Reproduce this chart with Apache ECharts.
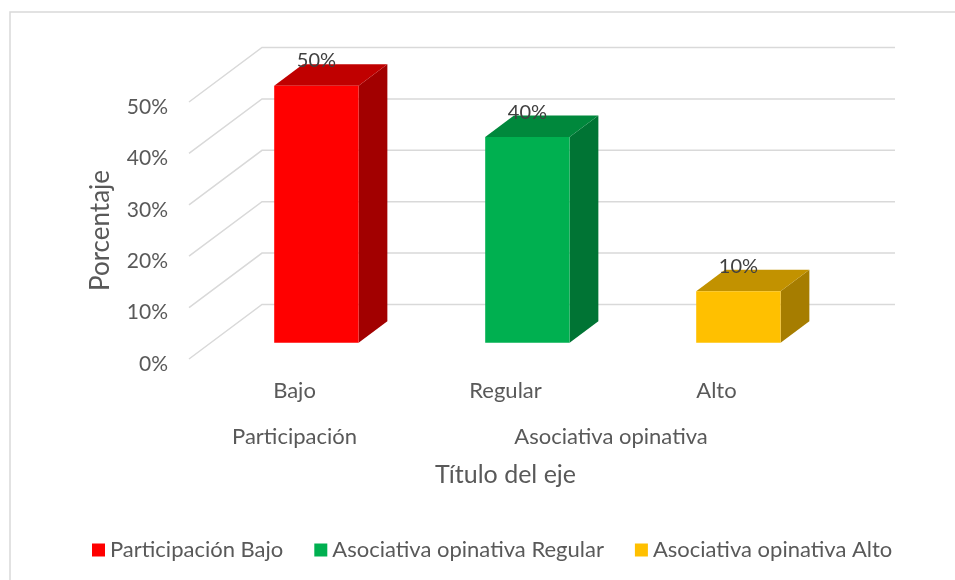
<!DOCTYPE html>
<html><head><meta charset="utf-8">
<script src="https://cdn.jsdelivr.net/npm/echarts@6/dist/echarts.min.js"></script>
<style>html,body{margin:0;padding:0;background:#fff}#c{width:955px;height:580px}</style>
</head><body><div id="c"></div>
<script>
// ---- data ----
var categories = ['Bajo', 'Regular', 'Alto'];
var groupNames = ['Participación', 'Asociativa opinativa'];
var groupSpans = [1, 2];
var seriesNames = ['Participación Bajo', 'Asociativa opinativa Regular', 'Asociativa opinativa Alto'];
var values = [50, 40, 10];
var yTicks = [0, 10, 20, 30, 40, 50];
var yAxisTitle = 'Porcentaje';
var xAxisTitle = 'Título del eje';

// ---- style ----
var FONT = 'Lato';
var faceColors = [
  {front: '#FF0000', side: '#A20000', top: '#C00000'},
  {front: '#00B050', side: '#007434', top: '#00883C'},
  {front: '#FFC000', side: '#A67D00', top: '#C29200'}
];
var DX = 73, DY = 54.5;      // full floor depth projection (px)
var D0 = 0.3, D1 = 0.694;    // bar depth position
var BAR_W = 0.4;

var chart = echarts.init(document.getElementById('c'));

function gridRender(params, api) {
  var cs = params.coordSys;
  var v = api.value(0);
  var p = api.coord([0, v]);
  var y = p[1];
  var x0 = cs.x, x1 = cs.x + cs.width;
  return {
    type: 'polyline',
    shape: {points: [[x0, y], [x0 + DX, y - DY], [x1 + DX, y - DY]]},
    style: {stroke: '#D9D9D9', lineWidth: 1.5, fill: null}
  };
}

function makeBarRender(idx) {
  return function (params, api) {
    var ci = api.value(0), v = api.value(1);
    var base = api.coord([ci, 0]);
    var top = api.coord([ci, v]);
    var bw = api.size([1, 0])[0] * BAR_W;
    var xL = base[0] - bw / 2 + DX * D0, xR = xL + bw;
    var yB = base[1] - DY * D0, yT = top[1] - DY * D0;
    var dx = DX * (D1 - D0), dy = DY * (D1 - D0);
    var c = faceColors[idx];
    return {
      type: 'group',
      children: [
        {type: 'polygon', shape: {points: [[xR, yT], [xR + dx, yT - dy], [xR + dx, yB - dy], [xR, yB]]}, style: {fill: c.side}},
        {type: 'polygon', shape: {points: [[xL, yT], [xL + dx, yT - dy], [xR + dx, yT - dy], [xR, yT]]}, style: {fill: c.top}},
        {type: 'rect', shape: {x: xL, y: yT, width: bw, height: yB - yT}, style: {fill: c.front}},
        {type: 'text', style: {text: v + '%', x: xL + bw / 2, y: yT - 25, align: 'center', verticalAlign: 'middle',
          fill: '#404040', font: '20px ' + FONT}}
      ]
    };
  };
}

// group label positions on a 0..n value axis
var groupCenters = [];
(function () { var s = 0; for (var i = 0; i < groupSpans.length; i++) { groupCenters.push(s + groupSpans[i] / 2); s += groupSpans[i]; } })();

var series = [{
  type: 'custom', name: '_grid', renderItem: gridRender, z: 1, silent: true,
  xAxisIndex: 0, yAxisIndex: 0,
  data: yTicks.map(function (t) { return [t]; }), encode: {y: 0}
}];
for (var i = 0; i < values.length; i++) {
  var d = [];
  d.push([i, values[i]]);
  series.push({
    type: 'custom', name: seriesNames[i], renderItem: makeBarRender(i), z: 3,
    xAxisIndex: 0, yAxisIndex: 0, clip: false,
    itemStyle: {color: faceColors[i].front},
    data: d, encode: {x: 0, y: 1}
  });
}

chart.setOption({
  animation: false,
  graphic: [{type: 'rect', shape: {x: 10, y: 12, width: 980, height: 600}, style: {fill: null, stroke: '#D9D9D9', lineWidth: 1.5}, silent: true}],
  grid: {left: 189, right: 133, top: 102, bottom: 221},
  legend: {
    data: seriesNames, bottom: 14, left: 87, icon: 'rect', itemWidth: 13, itemHeight: 13, itemGap: 31,
    textStyle: {fontFamily: FONT, fontSize: 22, color: '#595959', padding: [0, 0, 0, 0]}
  },
  xAxis: [{
    type: 'category', data: categories,
    axisLine: {show: false}, axisTick: {show: false}, splitLine: {show: false},
    axisLabel: {fontFamily: FONT, fontSize: 22, color: '#595959', margin: 21},
    name: xAxisTitle, nameLocation: 'middle', nameGap: 103,
    nameTextStyle: {fontFamily: FONT, fontSize: 25, color: '#595959'}
  }, {
    type: 'value', min: 0, max: categories.length, interval: 0.5, position: 'bottom', offset: 46,
    axisLine: {show: false}, axisTick: {show: false}, splitLine: {show: false},
    axisLabel: {fontFamily: FONT, fontSize: 22, color: '#595959', margin: 21, showMinLabel: true, showMaxLabel: true,
      formatter: function (val) { var k = groupCenters.indexOf(val); return k >= 0 ? groupNames[k] : ''; }}
  }],
  yAxis: {
    type: 'value', min: 0, max: 50, interval: 10,
    axisLine: {show: false}, axisTick: {show: false}, splitLine: {show: false},
    axisLabel: {fontFamily: FONT, fontSize: 21, color: '#595959', margin: 21, formatter: '{value}%',
      verticalAlign: 'top', lineHeight: 10},
    name: yAxisTitle, nameLocation: 'middle', nameGap: 75,
    nameTextStyle: {fontFamily: FONT, fontSize: 26, color: '#595959'}
  },
  series: series
});
</script></body></html>
